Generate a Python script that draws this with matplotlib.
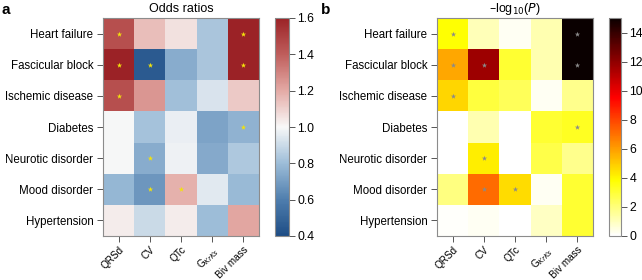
import matplotlib

matplotlib.use("Agg")
import matplotlib.pyplot as plt
import numpy as np
from matplotlib.colors import LinearSegmentedColormap

plt.rcParams["font.family"] = ["Liberation Sans", "DejaVu Sans"]
plt.rcParams["font.size"] = 8.3

rows = ["Heart failure", "Fascicular block", "Ischemic disease", "Diabetes",
        "Neurotic disorder", "Mood disorder", "Hypertension"]
cols = ["QRSd", "CV", "QTc", r"G$_{\mathit{KrKs}}$", "Biv mass"]

odds = np.array([
    [1.45, 1.15, 1.06, 0.83, 1.60],
    [1.60, 0.46, 0.75, 0.83, 1.60],
    [1.45, 1.25, 0.81, 0.93, 1.12],
    [1.00, 0.82, 0.97, 0.72, 0.77],
    [1.00, 0.75, 0.98, 0.74, 0.84],
    [0.78, 0.68, 1.18, 0.95, 0.79],
    [1.03, 0.90, 1.03, 0.80, 1.21],
])
neglogp = np.array([
    [3.8, 1.1, 0.2, 1.2, 15.0],
    [5.8, 11.7, 3.1, 1.2, 15.0],
    [4.7, 2.9, 2.5, 0.2, 1.7],
    [0.0, 1.2, 0.0, 3.1, 3.3],
    [0.0, 4.2, 0.0, 2.7, 1.7],
    [1.9, 7.1, 4.6, 0.2, 3.1],
    [0.1, 0.2, 0.0, 0.9, 3.1],
])
# significant cells (row, col)
signif = [(0, 0), (0, 4), (1, 0), (1, 1), (1, 4), (2, 0), (3, 4), (4, 1), (5, 1), (5, 2)]

EDGE = "#8c8c8c"
TICK = "#555555"

odds_cmap = LinearSegmentedColormap.from_list("odds", [
    (0.0, "#1e4d85"), (0.167, "#4f7eae"), (0.333, "#9dbdd8"), (0.5, "#f8f8f8"),
    (0.667, "#e4aaa5"), (0.833, "#bf5e5c"), (1.0, "#9b2226")])

fig = plt.figure(figsize=(6.42, 2.80), dpi=100)
W, H = 642, 280


def box(x0, y0, x1, y1):
    return [x0 / W, 1 - y1 / H, (x1 - x0) / W, (y1 - y0) / H]


def heat(ax, cax, data, cmap, vmin, vmax, star_color, title, ticks):
    im = ax.imshow(data, cmap=cmap, vmin=vmin, vmax=vmax, aspect="auto",
                   interpolation="nearest")
    r, c = zip(*signif)
    ax.scatter(c, r, marker="*", s=16, color=star_color, linewidths=0, zorder=3)
    ax.set_xticks(range(len(cols)))
    ax.set_xticklabels(cols, rotation=45, ha="right", rotation_mode="anchor",
                       fontsize=7.2)
    ax.set_yticks(range(len(rows)))
    ax.set_yticklabels(rows)
    ax.set_title(title, fontsize=9, pad=4)
    for s in ax.spines.values():
        s.set_color(EDGE)
    ax.tick_params(axis="y", color=TICK, length=4, width=0.7, pad=3)
    ax.tick_params(axis="x", color=TICK, length=4, width=0.7, pad=2)
    cb = fig.colorbar(im, cax=cax, ticks=ticks)
    cb.outline.set_edgecolor(EDGE)
    cb.ax.tick_params(color=TICK, length=4, width=0.7, labelsize=8.8, pad=2)
    return cb


ax1 = fig.add_axes(box(103, 18, 259, 236))
cax1 = fig.add_axes(box(275, 18, 289, 236))
heat(ax1, cax1, odds, odds_cmap, 0.4, 1.6, "#f2e20c", "Odds ratios",
     [0.4, 0.6, 0.8, 1.0, 1.2, 1.4, 1.6])

ax2 = fig.add_axes(box(437, 18, 593, 236))
cax2 = fig.add_axes(box(609, 18, 621, 236))
heat(ax2, cax2, neglogp, "hot_r", 0, 15, "#8a8a8a", r"–log$_{10}$($P$)",
     [0, 2, 4, 6, 8, 10, 12, 14])

fig.text(1 / W, 1 - 10 / H, "a", fontsize=11, fontweight="bold", va="center")
fig.text(321 / W, 1 - 10 / H, "b", fontsize=11, fontweight="bold", va="center")

fig.savefig("out.png", dpi=100)
